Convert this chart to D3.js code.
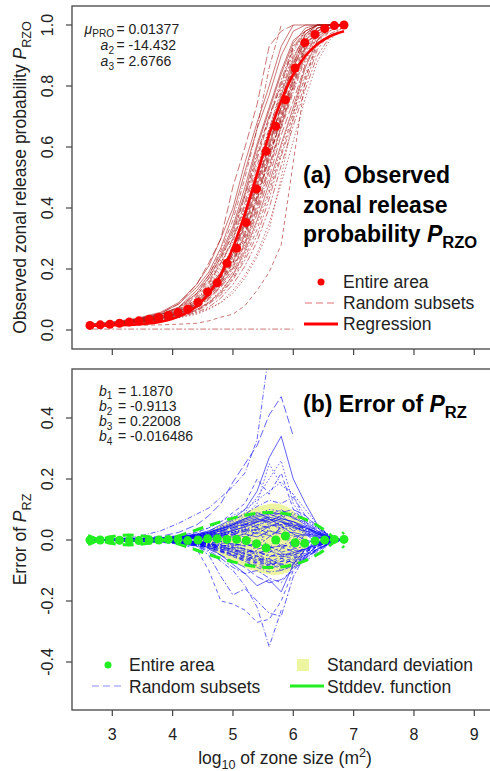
<!DOCTYPE html>
<html><head><meta charset="utf-8">
<script src="https://cdn.jsdelivr.net/npm/d3@7"></script>
<style>body{margin:0;background:#fff}svg{display:block;font-family:"Liberation Sans",Arial,sans-serif}text{white-space:pre}</style>
</head><body><svg id="c" width="490" height="771"></svg>
<script>
// ---------- data ----------
const xGrid = [2.6,3.0,3.4,3.8,4.1,4.4,4.6,4.8,5.0,5.2,5.4,5.6,5.8,6.0,6.2,6.4,6.6,6.8];
const entireX = [2.63,2.80,2.96,3.12,3.28,3.44,3.61,3.77,3.93,4.09,4.25,4.42,4.58,4.74,4.90,5.06,5.22,5.39,5.55,5.71,5.87,6.03,6.19,6.36,6.52,6.68,6.84];
const entireP = [.015,.017,.019,.022,.026,.030,.035,.041,.048,.057,.068,.090,.125,.155,.219,.268,.352,.462,.586,.668,.755,.859,.942,.969,.988,.998,1.0];
const regX = [2.6,2.8,3.0,3.2,3.4,3.6,3.8,4.0,4.2,4.4,4.6,4.8,5.0,5.2,5.4,5.6,5.8,6.0,6.2,6.4,6.6,6.84];
const regP = [.0144,.0147,.0154,.0166,.0185,.0218,.0275,.0370,.0527,.0786,.1195,.1816,.2695,.3828,.5121,.6407,.7521,.8379,.8982,.9376,.9624,.9797];
const subsetsP = [
[.018,.025,.036,.055,.085,.14,.19,.27,.38,.52,.66,.77,.90,.98,1,1,1,1],
[.016,.022,.034,.05,.07,.11,.17,.24,.31,.44,.57,.70,.80,.93,.97,.99,1,1],
[.015,.021,.031,.045,.063,.10,.14,.20,.27,.37,.51,.64,.75,.88,.95,.98,1,1],
[.014,.019,.028,.040,.055,.08,.115,.16,.23,.31,.44,.57,.69,.81,.92,.97,.99,1],
[.013,.018,.026,.037,.050,.072,.10,.14,.19,.27,.38,.50,.64,.75,.87,.95,.98,1],
[.012,.017,.024,.034,.045,.062,.085,.115,.165,.23,.31,.43,.57,.69,.81,.92,.97,.99],
[.018,.026,.038,.058,.09,.15,.21,.30,.40,.55,.68,.80,.93,1,1,1,1,1],
[.014,.020,.027,.038,.052,.078,.11,.15,.22,.30,.42,.58,.68,.80,.93,.98,1,1],
[.013,.017,.025,.035,.048,.066,.092,.13,.18,.25,.35,.46,.60,.72,.84,.94,.99,1],
[.016,.022,.032,.047,.066,.10,.15,.22,.29,.41,.54,.66,.78,.90,.96,.99,1,1],
[.015,.020,.030,.043,.060,.09,.13,.18,.26,.35,.48,.62,.73,.86,.95,.99,1,1],
[.011,.016,.022,.032,.042,.058,.075,.105,.15,.21,.29,.40,.54,.67,.79,.90,.96,.99],
[.017,.024,.035,.052,.075,.13,.18,.25,.34,.47,.61,.73,.85,.95,.98,1,1,1],
[.015,.019,.029,.041,.056,.085,.12,.17,.24,.33,.45,.59,.71,.83,.94,.98,1,1],
[.010,.014,.020,.030,.040,.052,.068,.09,.13,.18,.25,.35,.48,.62,.76,.88,.95,.99],
[.016,.021,.030,.044,.062,.095,.14,.19,.28,.38,.50,.64,.76,.87,.96,1,1,1],
[.013,.019,.027,.039,.054,.077,.11,.155,.21,.29,.41,.54,.67,.79,.90,.97,.99,1],
[.017,.023,.033,.049,.070,.115,.16,.23,.32,.44,.58,.70,.82,.93,.98,1,1,1],
[.012,.018,.025,.036,.047,.067,.09,.125,.18,.26,.36,.48,.61,.73,.86,.95,.99,1],
[.014,.020,.029,.042,.057,.086,.125,.17,.25,.34,.46,.60,.72,.85,.94,.98,1,1],
[.016,.021,.031,.046,.064,.098,.145,.21,.30,.40,.53,.66,.79,.91,.98,1,1,1],
[.013,.018,.026,.038,.051,.074,.105,.145,.20,.28,.39,.52,.66,.78,.89,.96,.99,1],
[.015,.020,.028,.041,.058,.088,.13,.18,.25,.36,.49,.60,.74,.87,.97,1,1,1],
[.014,.019,.027,.039,.053,.08,.12,.16,.22,.32,.43,.56,.70,.82,.93,.99,1,1],
[.017,.023,.034,.051,.073,.12,.17,.24,.33,.45,.60,.72,.84,.94,.99,1,1,1],
[.012,.017,.023,.034,.046,.064,.088,.12,.17,.24,.33,.45,.58,.71,.83,.93,.98,1],
[.015,.020,.029,.042,.059,.09,.13,.185,.26,.36,.49,.63,.75,.88,.96,1,1,1],
[.014,.019,.028,.040,.055,.082,.12,.165,.235,.32,.44,.58,.70,.83,.93,.98,1,1],
[.016,.022,.033,.048,.068,.105,.155,.22,.30,.42,.56,.69,.81,.92,.98,1,1,1],
[.013,.018,.026,.037,.051,.073,.105,.145,.205,.285,.40,.53,.67,.80,.91,.97,1,1],
[.015,.021,.030,.044,.061,.092,.135,.19,.27,.37,.50,.65,.77,.89,.97,1,1,1],
[.014,.019,.027,.039,.054,.079,.115,.16,.225,.31,.43,.56,.69,.82,.92,.98,1,1],
[.013,.017,.024,.033,.043,.055,.07,.09,.12,.17,.24,.33,.50,.70,.88,.97,1,1],
[.015,.021,.032,.05,.075,.12,.18,.26,.36,.50,.66,.86,1,null,null,null,null,null],
[.015,.022,.035,.055,.085,.15,.22,.30,.47,.60,.74,.93,.98,1,null,null,null,null],
[.003,.003,.003,.003,.003,.003,.003,.003,.003,.003,.003,.003,.003,.003,null,null,null,null],
[.015,.020,.028,.041,.057,.086,.125,.175,.25,.345,.47,.61,.73,.86,.95,.99,1,1],
[.012,.013,.015,.017,.019,.022,.03,.042,.052,.08,.13,.19,.28,.55,.82,.95,1,1]
];
const errEntire = [0,0,0,-.001,-.002,-.002,-.001,0,.002,.002,-.002,0,.004,.004,.002,.002,-.002,-.012,-.026,0,.013,-.009,-.011,-.003,0,.002,.002];
const stdFnX = [2.6,2.8,3.0,3.2,3.4,3.6,3.8,4.0,4.2,4.4,4.6,4.8,5.0,5.2,5.4,5.6,5.8,6.0,6.2,6.4,6.6,6.84];
const stdFnV = [.0156,-.0011,-.0113,-.0158,-.0153,-.0106,-.0026,.0080,.0203,.0337,.0472,.0602,.0718,.0811,.0876,.0902,.0883,.0811,.0677,.0475,.0194,-.0255];
const sdX  = [4.4,4.7,5.0,5.2,5.4,5.6,5.8,6.0,6.15,6.25];
const sdUp = [.01,.04,.07,.09,.11,.12,.12,.10,.06,0];
const sdLo = [-.01,-.04,-.07,-.09,-.105,-.115,-.115,-.10,-.06,0];
const subsetsErr = [
[0,.001,.002,.004,.006,.012,.02,.03,.045,.05,.07,.06,.08,.05,.04,.02,.008,0],
[0,-.001,-.002,-.004,-.007,-.012,-.018,-.03,-.04,-.06,-.07,-.08,-.07,-.06,-.04,-.02,-.006,0],
[0,.002,.003,.005,.008,.01,.015,.02,.03,.02,.04,.07,.05,.06,.03,.01,.005,0],
[0,-.002,-.003,-.006,-.01,-.015,-.025,-.035,-.05,-.065,-.05,-.09,-.06,-.075,-.05,-.03,-.01,0],
[0,.001,.001,.002,.004,.008,.01,.02,.015,.035,.02,.045,.06,.03,.045,.02,.01,0],
[0,-.001,0,-.002,-.003,-.005,-.01,-.005,-.02,-.01,-.03,-.02,-.04,-.03,-.02,-.01,-.005,0],
[0,.002,.004,.007,.01,.018,.025,.04,.055,.07,.08,.09,.085,.075,.05,.03,.01,0],
[0,-.002,-.004,-.007,-.01,-.018,-.028,-.04,-.055,-.07,-.085,-.095,-.08,-.065,-.045,-.025,-.01,0],
[0,.001,.002,.003,.005,.01,.012,.02,.025,.04,.03,.055,.035,.04,.02,.015,.005,0],
[0,0,-.001,-.002,-.004,-.006,-.012,-.02,-.015,-.03,-.045,-.03,-.05,-.04,-.035,-.015,-.005,0],
[0,.001,.002,.003,.006,.012,.018,.025,.035,.05,.065,.08,.1,.07,.06,.035,.015,0],
[0,-.001,-.002,-.003,-.005,-.01,-.015,-.025,-.035,-.045,-.06,-.07,-.1,-.08,-.06,-.03,-.01,0],
[0,0,.001,.001,.002,.004,.006,.01,.01,.02,.01,.03,.02,.025,.015,.01,.004,0],
[0,-.001,-.001,-.002,-.002,-.004,-.005,-.01,-.012,-.02,-.015,-.025,-.02,-.015,-.01,-.005,-.002,0],
[0,.002,.003,.005,.008,.014,.02,.03,.045,.06,.05,.065,.075,.085,.065,.04,.015,0],
[0,-.002,-.003,-.005,-.008,-.014,-.02,-.03,-.04,-.055,-.065,-.06,-.085,-.06,-.05,-.03,-.012,0],
[0,.001,.001,.003,.004,.007,.012,.015,.025,.03,.05,.04,.06,.045,.03,.02,.006,0],
[0,-.001,-.002,-.003,-.005,-.008,-.015,-.02,-.03,-.04,-.035,-.055,-.045,-.05,-.03,-.015,-.006,0],
[0,.002,.004,.006,.01,.016,.025,.035,.05,.065,.075,.085,.07,.06,.04,.025,.01,0],
[0,-.002,-.004,-.006,-.01,-.016,-.022,-.035,-.05,-.06,-.08,-.085,-.07,-.07,-.05,-.03,-.01,0],
[0,.001,-.001,.002,-.003,.006,-.008,.012,-.02,.03,-.025,.04,-.03,.02,-.015,.01,-.004,0],
[0,-.001,.002,-.002,.004,-.006,.01,-.015,.025,-.02,.045,-.035,.055,-.03,.02,-.01,.004,0],
[0,.002,.003,.004,.007,.011,.015,.028,.04,.055,.04,.02,-.02,-.04,-.03,-.015,-.005,0],
[0,-.002,-.003,-.004,-.007,-.011,-.016,-.025,-.03,-.045,-.02,.01,.04,.05,.035,.02,.006,0],
[0,.001,.002,.004,.007,.013,.022,.035,.05,.07,.09,.07,.045,.02,0,-.01,-.003,0],
[0,-.001,-.002,-.004,-.006,-.012,-.02,-.032,-.048,-.066,-.075,-.06,-.03,0,.02,.015,.005,0],
[0,.001,.003,.005,.009,.015,.024,.038,.052,.068,.085,.1,.095,.08,.055,.03,.012,0],
[0,-.001,-.003,-.005,-.009,-.015,-.024,-.038,-.052,-.07,-.09,-.105,-.1,-.085,-.06,-.035,-.012,0],
[0,.001,.002,.003,.004,.006,.009,.014,.02,.028,.035,.045,.05,.055,.04,.025,.01,0],
[0,-.001,-.001,-.003,-.004,-.006,-.01,-.016,-.022,-.03,-.04,-.05,-.055,-.05,-.035,-.02,-.008,0],
[0,.002,.003,.006,.009,.013,.017,.022,.03,.045,.06,.075,.065,.045,.025,.01,.004,0],
[0,-.002,-.003,-.006,-.009,-.013,-.017,-.024,-.035,-.048,-.055,-.04,-.025,-.035,-.03,-.015,-.005,0],
[0,.001,.002,.004,.006,.009,.013,.018,.026,.036,.048,.062,.08,.09,.07,.04,.015,0],
[0,-.001,-.002,-.004,-.006,-.009,-.013,-.018,-.026,-.036,-.048,-.065,-.078,-.09,-.07,-.04,-.015,0],
[0,0,.001,.002,.003,.005,.008,.012,.018,.01,.025,.015,.03,.01,.02,.005,.002,0],
[0,0,-.001,-.002,-.003,-.005,-.008,-.004,-.012,-.02,-.01,-.028,-.015,-.025,-.01,-.005,-.002,0],
[0,.002,.004,.006,.011,.017,.026,.037,.05,.06,.07,.055,.07,.06,.045,.025,.01,0],
[0,-.002,-.004,-.006,-.011,-.017,-.026,-.037,-.045,-.055,-.075,-.08,-.06,-.055,-.04,-.02,-.008,0],
[0,.001,.002,.002,.004,.007,.011,.016,.024,.034,.03,.05,.04,.05,.035,.02,.008,0],
[0,-.001,-.002,-.002,-.004,-.007,-.011,-.016,-.024,-.03,-.042,-.035,-.05,-.045,-.025,-.012,-.004,0],
[0,.001,.003,.004,.008,.012,.02,.03,.04,.05,.06,.075,.09,.1,.08,.045,.015,0],
[0,-.001,-.003,-.004,-.008,-.012,-.02,-.028,-.04,-.052,-.065,-.075,-.09,-.075,-.055,-.035,-.012,0],
[0,.001,.001,.003,.005,.009,.014,.02,.032,.042,.058,.068,.06,.04,.03,.015,.005,0],
[0,-.001,-.001,-.003,-.005,-.009,-.014,-.022,-.03,-.044,-.052,-.072,-.055,-.042,-.03,-.015,-.005,0],
[0,.002,.004,.008,.014,.025,.04,.06,.08,.1,.13,.16,.19,.15,.1,.05,.015,0],
[0,.001,.003,.006,.01,.018,.03,.045,.065,.085,.11,.13,.12,.14,.08,.04,.01,0],
[0,-.001,-.003,-.006,-.01,-.018,-.03,-.05,-.07,-.09,-.12,-.14,-.13,-.1,-.06,-.03,-.01,0],
[0,-.002,-.004,-.008,-.012,-.02,-.035,-.06,-.09,-.11,-.1,-.125,-.14,-.09,-.05,-.02,-.005,0],
[0,.001,.003,.006,.01,.02,.03,.05,.07,.1,.16,.27,.34,.2,.12,.05,.01,0],
[0,-.001,-.002,-.005,-.01,-.03,-.1,-.2,-.21,-.23,-.27,-.26,-.2,-.1,-.04,-.015,-.005,0],
[0,.001,.002,.004,.008,.015,.025,.04,.06,.09,.14,.2,.26,.12,.06,.02,.005,0],
[0,.003,.01,.03,.055,.085,.105,.14,.175,.22,.33,.62,null,null,null,null,null,null],
[0,.002,.005,.012,.025,.05,.08,.12,.19,.25,.31,.41,.47,.34,null,null,null,null],
[0,-.001,-.002,-.004,-.008,-.02,-.05,-.12,-.18,-.16,-.2,-.24,-.25,-.12,-.05,-.02,-.005,0],
[0,0,-.001,-.003,-.006,-.012,-.025,-.05,-.08,-.11,-.15,-.13,-.17,-.08,-.03,-.01,0,0],
[0,.002,.004,.008,.014,.025,.04,.06,.09,.12,.2,.15,.22,.1,.06,.03,.01,0],
[0,0,.002,.003,.006,.012,.02,.03,.05,.08,.12,.25,.18,.15,.05,.02,.005,0],
[0,-.001,-.003,-.005,-.01,-.02,-.04,-.07,-.1,-.15,-.22,-.35,-.23,null,null,null,null,null]
];
const xTicks = [3,4,5,6,7,8,9];
const yTicksA = [0,0.2,0.4,0.6,0.8,1.0];
const yTicksB = [-0.4,-0.2,0.0,0.2,0.4];

// ---------- layout ----------
const svg = d3.select("#c");
const L = 72, R = 492;
const A = {top:6, bottom:349};
const B = {top:369, bottom:710};
const x = d3.scaleLinear().domain([3,9]).range([112.3,474.3]);
const yA = d3.scaleLinear().domain([0,1]).range([330,25]);
const yB = d3.scaleLinear().domain([-0.4,0.4]).range([662,418]);
const dashes = ["none","4,3","1.5,2","1,2,5,2","8,3","2,2,6,2"];
const FS = 16;

function rich(sel, parts, size, subK){
  let shift = 0;
  const k = subK == null ? 0.28 : subK;
  parts.forEach(p=>{
    const ts = sel.append("tspan").text(p.t);
    const target = p.sub ? size*k : p.sup ? -size*0.38 : 0;
    ts.attr("dy", target - shift); shift = target;
    if(p.sub || p.sup) ts.attr("font-size", size*0.72);
    if(p.it) ts.attr("font-style","italic");
  });
}

const defs = svg.append("defs");
defs.append("clipPath").attr("id","clipA").append("rect").attr("x",L).attr("y",A.top).attr("width",R-L).attr("height",A.bottom-A.top);
defs.append("clipPath").attr("id","clipB").append("rect").attr("x",L).attr("y",B.top).attr("width",R-L).attr("height",B.bottom-B.top);

// ---------- panel A ----------
const gA = svg.append("g").attr("clip-path","url(#clipA)");
const lineA = d3.line().defined(d=>d[1]!=null).x(d=>x(d[0])).y(d=>yA(d[1]));
subsetsP.forEach((s,i)=>{
  gA.append("path").attr("d", lineA(xGrid.map((g,j)=>[g,s[j]])))
    .attr("fill","none").attr("stroke","#a81a1a").attr("stroke-opacity",0.7)
    .attr("stroke-width",0.85).attr("stroke-dasharray",dashes[i%6]);
});
gA.append("path").attr("d", d3.line().curve(d3.curveMonotoneX).x(d=>x(d[0])).y(d=>yA(d[1]))(regX.map((v,i)=>[v,regP[i]])))
  .attr("fill","none").attr("stroke","#ff0000").attr("stroke-width",2.6);
gA.selectAll("circle.e").data(entireX.map((v,i)=>[v,entireP[i]])).enter().append("circle")
  .attr("cx",d=>x(d[0])).attr("cy",d=>yA(d[1])).attr("r",4.5).attr("fill","#ff0000");

// ---------- panel B ----------
const gB = svg.append("g").attr("clip-path","url(#clipB)");
gB.append("path").attr("d", d3.area().curve(d3.curveBasis).x(d=>x(d[0])).y0(d=>yB(d[2])).y1(d=>yB(d[1]))(sdX.map((v,i)=>[v,sdUp[i],sdLo[i]])))
  .attr("fill","#eef5a0");
const lineB = d3.line().defined(d=>d[1]!=null).x(d=>x(d[0])).y(d=>yB(d[1]));
subsetsErr.forEach((s,i)=>{
  gB.append("path").attr("d", lineB(xGrid.map((g,j)=>[g,s[j]])))
    .attr("fill","none").attr("stroke","#0a0aff").attr("stroke-opacity",0.75)
    .attr("stroke-width",0.85).attr("stroke-dasharray",dashes[i%6]);
});
const sLine = d3.line().curve(d3.curveNatural).x(d=>x(d[0])).y(d=>yB(d[1]));
[1,-1].forEach(sg=>{
  gB.append("path").attr("d", sLine(stdFnX.map((v,i)=>[v, sg*stdFnV[i]])))
    .attr("fill","none").attr("stroke","#22ee22").attr("stroke-width",3).attr("stroke-dasharray","11,7");
});
gB.selectAll("circle.e").data(entireX.map((v,i)=>[v,errEntire[i]])).enter().append("circle")
  .attr("cx",d=>x(d[0])).attr("cy",d=>yB(d[1])).attr("r",4.5).attr("fill","#22ee22");

// ---------- frames & axes ----------
const ax = svg.append("g").attr("fill","#222").attr("font-size",FS);
[A,B].forEach(P=>{
  ax.append("rect").attr("x",L).attr("y",P.top).attr("width",R-L).attr("height",P.bottom-P.top)
    .attr("fill","none").attr("stroke","#444").attr("stroke-width",1.3);
  xTicks.forEach(t=>ax.append("line").attr("x1",x(t)).attr("x2",x(t)).attr("y1",P.bottom).attr("y2",P.bottom+6).attr("stroke","#444").attr("stroke-width",1.2));
});
xTicks.forEach(t=>ax.append("text").attr("x",x(t)).attr("y",740).attr("text-anchor","middle").text(t));
[[yTicksA,yA],[yTicksB,yB]].forEach(([ts,sc])=>{
  ts.forEach(t=>{
    ax.append("line").attr("x1",L).attr("x2",L-6).attr("y1",sc(t)).attr("y2",sc(t)).attr("stroke","#444").attr("stroke-width",1.2);
    ax.append("text").attr("transform",`translate(53,${sc(t)}) rotate(-90)`).attr("text-anchor","middle").text(t.toFixed(1));
  });
});
rich(ax.append("text").attr("font-size",17.5).attr("transform",`translate(26,${(A.top+A.bottom)/2}) rotate(-90)`).attr("text-anchor","middle"),
  [{t:"Observed zonal release probability "},{t:"P",it:true},{t:"RZO",sub:true}], 17.5);
rich(ax.append("text").attr("font-size",17.5).attr("transform",`translate(26,${(B.top+B.bottom)/2}) rotate(-90)`).attr("text-anchor","middle"),
  [{t:"Error of "},{t:"P",it:true},{t:"RZ",sub:true}], 17.5);
rich(ax.append("text").attr("font-size",17.5).attr("x",285).attr("y",764).attr("text-anchor","middle"),
  [{t:"log"},{t:"10",sub:true},{t:" of zone size (m"},{t:"2",sup:true},{t:")"}], 17.5);

// ---------- annotations ----------
const AF = 14;
const an = svg.append("g").attr("fill","#222").attr("font-size",AF);
const annA = [[[{t:"μ",it:true},{t:"PRO",sub:true}],"= 0.01377"],[[{t:"a",it:true},{t:"2",sub:true}],"= -14.432"],[[{t:"a",it:true},{t:"3",sub:true}],"= 2.6766"]];
const annAy = [34, 50.3, 65.6];
annA.forEach((a,i)=>{
  rich(an.append("text").attr("x",114).attr("y",annAy[i]).attr("text-anchor","end"), a[0], AF, i===0 ? 0.2 : 0.28);
  an.append("text").attr("x",116.5).attr("y",annAy[i]).text(a[1]);
});
const annB = [["1","= 1.1870"],["2","= -0.9113"],["3","= 0.22008"],["4","= -0.016486"]];
annB.forEach((a,i)=>{
  const y0 = 395.5 + i*15.3;
  rich(an.append("text").attr("x",99).attr("y",y0), [{t:"b",it:true},{t:a[0],sub:true}], AF);
  an.append("text").attr("x",118).attr("y",y0).text(a[1]);
});

// ---------- titles ----------
const tt = svg.append("g").attr("fill","#000").attr("font-weight","bold").attr("font-size",23);
tt.append("text").attr("x",303).attr("y",183).text("(a)  Observed");
tt.append("text").attr("x",303).attr("y",213).text("zonal release");
rich(tt.append("text").attr("x",303).attr("y",242),[{t:"probability "},{t:"P",it:true},{t:"RZO",sub:true}],23);
rich(tt.append("text").attr("x",303).attr("y",412),[{t:"(b) Error of "},{t:"P",it:true},{t:"RZ",sub:true}],23);

// ---------- legends ----------
const lg = svg.append("g").attr("fill","#222").attr("font-size",17.5);
lg.append("circle").attr("cx",321).attr("cy",282).attr("r",3.5).attr("fill","#ff0000");
lg.append("text").attr("x",343).attr("y",288).text("Entire area");
lg.append("line").attr("x1",305).attr("x2",338).attr("y1",303).attr("y2",303).attr("stroke","#e07070").attr("stroke-width",1).attr("stroke-dasharray","7,4");
lg.append("text").attr("x",343).attr("y",309).text("Random subsets");
lg.append("line").attr("x1",304).attr("x2",338).attr("y1",324).attr("y2",324).attr("stroke","#ff0000").attr("stroke-width",3);
lg.append("text").attr("x",343).attr("y",330).text("Regression");

lg.append("circle").attr("cx",108).attr("cy",665).attr("r",3.5).attr("fill","#22ee22");
lg.append("text").attr("x",129).attr("y",671).text("Entire area");
lg.append("line").attr("x1",92).attr("x2",122).attr("y1",686).attr("y2",686).attr("stroke","#8c8cff").attr("stroke-width",1).attr("stroke-dasharray","7,4");
lg.append("text").attr("x",129).attr("y",692.5).text("Random subsets");
lg.append("rect").attr("x",297).attr("y",659).attr("width",12).attr("height",12).attr("fill","#eef5a0");
lg.append("text").attr("x",327).attr("y",671).text("Standard deviation");
lg.append("line").attr("x1",290).attr("x2",324).attr("y1",686).attr("y2",686).attr("stroke","#22ee22").attr("stroke-width",3);
lg.append("text").attr("x",327).attr("y",692.5).text("Stddev. function");
</script></body></html>
